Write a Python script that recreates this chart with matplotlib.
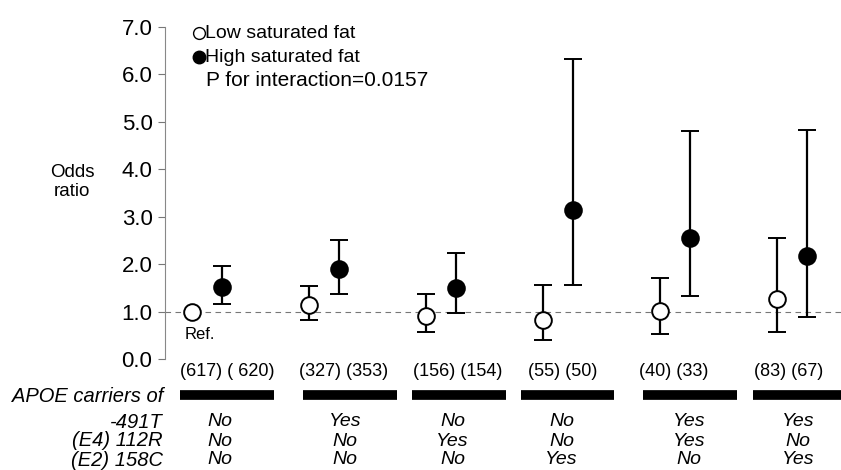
import numpy as np
import matplotlib
matplotlib.use("Agg")
import matplotlib.pyplot as plt
from matplotlib.transforms import blended_transform_factory

plt.rcParams["font.family"] = ["Liberation Sans", "DejaVu Sans"]

# ---------------------------------------------------------------------------
# data
# ---------------------------------------------------------------------------
n_labels = ["(617) ( 620)", "(327) (353)", "(156) (154)", "(55) (50)", "(40) (33)", "(83) (67)"]
row_names = ["-491T", "(E4) 112R", "(E2) 158C"]
carrier_491T = ["No", "Yes", "No", "No", "Yes", "Yes"]
carrier_112R = ["No", "No", "Yes", "No", "Yes", "No"]
carrier_158C = ["No", "No", "No", "Yes", "No", "Yes"]

low_or = [1.00, 1.13, 0.91, 0.83, 1.02, 1.26]
low_lo = [np.nan, 0.83, 0.57, 0.40, 0.53, 0.57]
low_hi = [np.nan, 1.54, 1.37, 1.56, 1.71, 2.55]

high_or = [1.52, 1.90, 1.49, 3.15, 2.56, 2.18]
high_lo = [1.17, 1.37, 0.98, 1.56, 1.32, 0.89]
high_hi = [1.97, 2.50, 2.23, 6.33, 4.80, 4.82]

p_interaction = "0.0157"

# hand-placed shifts (group units) of the table pieces, as in the original
num_shift = [0.17, 0.17, 0.145, 0.04, -0.01, -0.03]
bar_shift = [0.17, 0.22, 0.155, 0.08, 0.13, 0.065]
yn_shift = [0.11, 0.18, 0.10, 0.03, 0.12, 0.05]

# ---------------------------------------------------------------------------
W, H = 841, 470
fig = plt.figure(figsize=(W / 100, H / 100), dpi=100)
ax = fig.add_axes([165 / W, 1 - 359 / H, 1 - 165 / W, (359 - 27) / H])

x = np.arange(len(low_or))
off = 0.13
xl, xh = x - off, x + off

low_or = np.array(low_or)
low_lo = np.array(low_lo)
low_hi = np.array(low_hi)
has_ci = ~np.isnan(low_lo)

err_kw = dict(ecolor="black", elinewidth=1.6, capsize=6.5, capthick=1.6,
              markersize=12, mew=1.4, mec="black", linestyle="none", zorder=3)

# reference group has no CI
ax.plot(xl[~has_ci], low_or[~has_ci], "o", mfc="white", mec="black",
        markersize=12, mew=1.4, zorder=3)
ax.errorbar(xl[has_ci], low_or[has_ci],
            yerr=[low_or[has_ci] - low_lo[has_ci], low_hi[has_ci] - low_or[has_ci]],
            fmt="o", mfc="white", **err_kw)
ax.errorbar(xh, high_or,
            yerr=[np.array(high_or) - np.array(high_lo), np.array(high_hi) - np.array(high_or)],
            fmt="o", mfc="black", **err_kw)

ax.axhline(1.0, color="#777777", linewidth=0.8, dashes=(5, 4), zorder=1)
ax.text(xl[0] - 0.06, 0.52, "Ref.", fontsize=12, ha="left", va="center")

ax.set_xlim((165 - 207) / 117, (841 - 207) / 117)
ax.set_ylim(0, 7)
ax.set_yticks(np.arange(0, 8))
ax.set_yticklabels([f"{v:.1f}" for v in range(8)], fontsize=16)
ax.set_xticks([])
ax.tick_params(axis="y", length=5, width=0.8, color="#777777", pad=4)
for s in ["top", "right", "bottom"]:
    ax.spines[s].set_visible(False)
ax.spines["left"].set_color("#888888")
ax.spines["left"].set_linewidth(0.8)

fig.text(72 / W, 1 - 182 / H, "Odds\nratio", ha="center", va="center",
         fontsize=13.5, linespacing=1.2)

# legend drawn by hand
ax.plot([199 / W], [1 - 33 / H], "o", mfc="white", mec="black", markersize=8.5,
        mew=1.0, transform=fig.transFigure, clip_on=False)
ax.plot([199 / W], [1 - 57 / H], "o", mfc="black", mec="black", markersize=9,
        transform=fig.transFigure, clip_on=False)
fig.text(205 / W, 1 - 33 / H, "Low saturated fat", fontsize=14, va="center")
fig.text(205 / W, 1 - 57 / H, "High saturated fat", fontsize=14, va="center")
fig.text(206 / W, 1 - 80 / H, f"P for interaction={p_interaction}", fontsize=15, va="center")

# carrier table underneath
tr = blended_transform_factory(ax.transData, fig.transFigure)
for i in range(len(x)):
    ax.text(x[i] + num_shift[i], 1 - 372 / H, n_labels[i], transform=tr, ha="center",
            va="center", fontsize=13, clip_on=False)
    ax.plot([x[i] + bar_shift[i] - 0.40, x[i] + bar_shift[i] + 0.40], [1 - 395 / H] * 2,
            color="black", linewidth=7, solid_capstyle="butt",
            transform=tr, clip_on=False)
    for j, col in enumerate([carrier_491T, carrier_112R, carrier_158C]):
        ax.text(x[i] + yn_shift[i], 1 - (422 + 19 * j) / H, col[i], transform=tr,
                ha="center", va="center", fontsize=14, style="italic", clip_on=False)

fig.text(163 / W, 1 - 397 / H, "APOE carriers of", ha="right", va="center",
         fontsize=14.5, style="italic")
for j, name in enumerate(row_names):
    fig.text(163 / W, 1 - (422 + 19 * j) / H, name, ha="right", va="center",
             fontsize=14.5, style="italic")

fig.savefig("out.png", dpi=100)
